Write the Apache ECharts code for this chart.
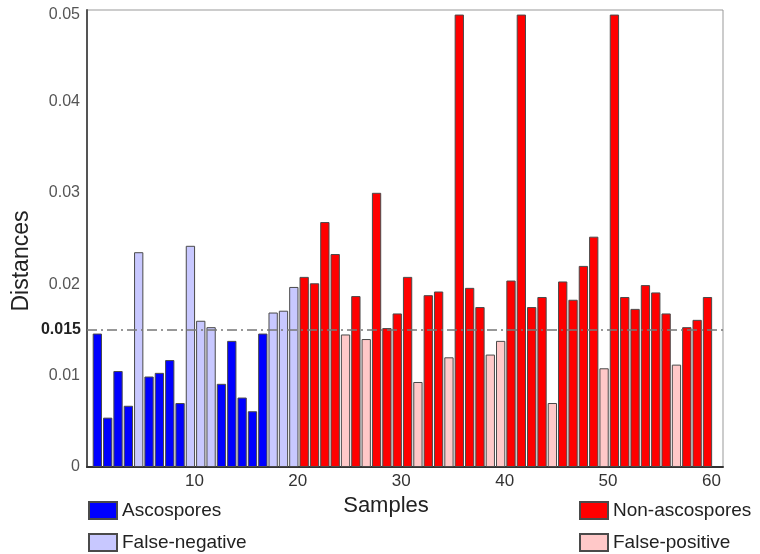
<!DOCTYPE html>
<html style="height: 100%">
<head>
    <meta charset="utf-8">
    <title>Distances per sample</title>
</head>
<body style="height: 100%; margin: 0; background: #fff">
<div id="container" style="width: 760px; height: 554px"></div>

<script type="text/javascript" src="https://cdn.jsdelivr.net/npm/echarts@6/dist/echarts.min.js"></script>
<script type="text/javascript">
    // distance of each sample (1..60), tall bars are clipped at the top of the plot
    var distances = [
        0.0146, 0.0054, 0.0105, 0.0067, 0.0235, 0.0099, 0.0103, 0.0117, 0.0070, 0.0242,
        0.0160, 0.0153, 0.0091, 0.0138, 0.0076, 0.0061, 0.0146, 0.0169, 0.0171, 0.0197,
        0.0208, 0.0201, 0.0268, 0.0233, 0.0145, 0.0187, 0.0140, 0.0300, 0.0152, 0.0168,
        0.0208, 0.0093, 0.0188, 0.0192, 0.0120, 0.0495, 0.0196, 0.0175, 0.0123, 0.0138,
        0.0204, 0.0495, 0.0175, 0.0186, 0.0070, 0.0203, 0.0183, 0.0220, 0.0252, 0.0108,
        0.0495, 0.0186, 0.0173, 0.0199, 0.0191, 0.0168, 0.0112, 0.0153, 0.0161, 0.0186
    ];
    // class of each sample: A = ascospores, FN = false-negative, N = non-ascospores, FP = false-positive
    var classes = [
        'A', 'A', 'A', 'A', 'FN', 'A', 'A', 'A', 'A', 'FN',
        'FN', 'FN', 'A', 'A', 'A', 'A', 'A', 'FN', 'FN', 'FN',
        'N', 'N', 'N', 'N', 'FP', 'N', 'FP', 'N', 'N', 'N',
        'N', 'FP', 'N', 'N', 'FP', 'N', 'N', 'N', 'FP', 'FP',
        'N', 'N', 'N', 'N', 'FP', 'N', 'N', 'N', 'N', 'FP',
        'N', 'N', 'N', 'N', 'N', 'N', 'FP', 'N', 'N', 'N'
    ];
    var classKeys = ['A', 'FN', 'N', 'FP'];
    var classNames = ['Ascospores', 'False-negative', 'Non-ascospores', 'False-positive'];
    var classColors = ['#0000ff', '#c8c8ff', '#ff0000', '#ffc8c8'];
    var yTicks = [0, 0.01, 0.02, 0.03, 0.04, 0.05];
    var threshold = 0.015;

    var FONT = '"Liberation Sans", Arial, sans-serif';

    var dom = document.getElementById('container');
    var myChart = echarts.init(dom, null, {renderer: 'canvas'});

    function pointsOf(key) {
        var out = [];
        for (var i = 0; i < distances.length; i++) {
            if (classes[i] === key) {
                out.push([i + 1, distances[i]]);
            }
        }
        return out;
    }

    var series = classKeys.map(function (key, k) {
        var s = {
            name: classNames[k],
            type: 'bar',
            barWidth: 9.3,
            barGap: '-100%',
            itemStyle: {
                color: classColors[k],
                borderColor: '#4a4a4a',
                borderWidth: 1
            },
            data: pointsOf(key)
        };
        if (k === 0) {
            s.markLine = {
                silent: true,
                symbol: 'none',
                precision: 4,
                lineStyle: {color: '#777', width: 1.5, type: [10, 4, 2, 4]},
                label: {
                    position: 'start',
                    formatter: String(threshold),
                    fontFamily: FONT,
                    fontSize: 16,
                    fontWeight: 'bold',
                    color: '#222',
                    distance: 6
                },
                data: [{yAxis: threshold}]
            };
        }
        return s;
    });

    function legendAt(left, names) {
        return {
            data: names,
            orient: 'vertical',
            left: left,
            top: 501,
            height: 53,
            padding: 0,
            icon: 'rect',
            itemWidth: 28,
            itemHeight: 17,
            itemGap: 13,
            textStyle: {fontSize: 19, color: '#222', fontFamily: FONT}
        };
    }

    var option = {
        animation: false,
        textStyle: {fontFamily: FONT},
        grid: {
            left: 87,
            right: 37,
            top: 10,
            bottom: 87,
            show: true,
            borderColor: '#999',
            borderWidth: 1
        },
        legend: [
            legendAt(88, [classNames[0], classNames[1]]),
            legendAt(579, [classNames[2], classNames[3]])
        ],
        xAxis: {
            type: 'value',
            min: 0,
            max: 61.5,
            interval: 10,
            name: 'Samples',
            nameLocation: 'middle',
            nameGap: 28,
            nameTextStyle: {fontSize: 22, color: '#222', fontFamily: FONT, padding: [0, 38, 0, 0]},
            splitLine: {show: false},
            axisTick: {show: false},
            axisLine: {lineStyle: {color: '#333', width: 2}},
            axisLabel: {
                fontSize: 17,
                color: '#333',
                margin: 6,
                padding: [0, 0, 0, 8],
                formatter: function (v) {
                    return (v > 0 && v % 10 === 0) ? String(v) : '';
                }
            }
        },
        yAxis: {
            type: 'value',
            min: 0,
            max: 0.05,
            interval: 0.01,
            name: 'Distances',
            nameLocation: 'middle',
            nameGap: 54,
            nameTextStyle: {fontSize: 23, color: '#222', fontFamily: FONT, padding: [0, 45, 0, 0]},
            splitLine: {show: false},
            axisTick: {show: false},
            axisLine: {lineStyle: {color: '#555', width: 2}},
            axisLabel: {
                fontSize: 16,
                color: '#555',
                margin: 7,
                formatter: function (v) {
                    for (var i = 0; i < yTicks.length; i++) {
                        if (Math.abs(v - yTicks[i]) < 1e-9) {
                            if (i === yTicks.length - 1) {
                                return '{top|' + yTicks[i].toFixed(2) + '}';
                            }
                            return yTicks[i] === 0 ? '0' : yTicks[i].toFixed(2);
                        }
                    }
                    return '';
                },
                rich: {
                    top: {fontSize: 16, color: '#555', padding: [10, 0, 0, 0]}
                }
            }
        },
        series: series
    };

    myChart.setOption(option);
    window.addEventListener('resize', myChart.resize);
</script>
</body>
</html>
